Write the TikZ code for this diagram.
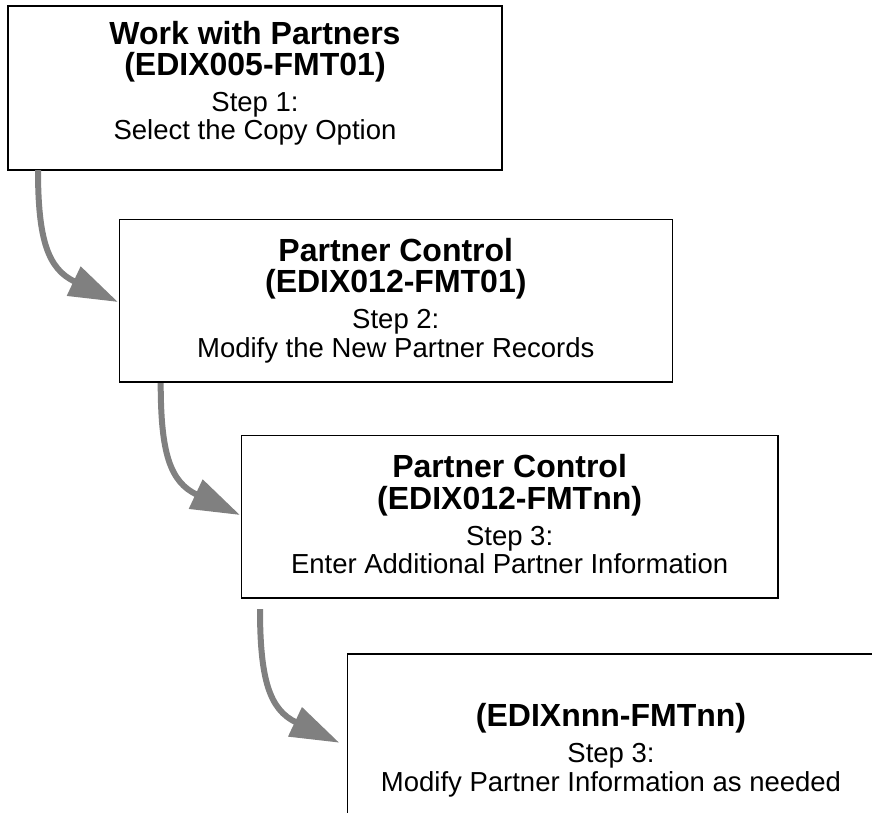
\documentclass[tikz,border=0pt]{standalone}
\usepackage{fontspec}
\setmainfont{Liberation Sans}
\usetikzlibrary{arrows.meta}
\definecolor{arrowgray}{HTML}{808080}
\begin{document}
\begin{tikzpicture}[x=1pt,y=-1pt,
  box/.style={draw=black, line width=1.3pt, inner sep=0pt},
  ttl/.style={font=\fontsize{32}{36}\selectfont\bfseries, anchor=base, inner sep=0pt},
  bdy/.style={font=\fontsize{27.5}{31}\selectfont, anchor=base, inner sep=0pt},
  flow/.style={draw=arrowgray, line width=6pt, -{Triangle[length=49pt,width=31pt]}}]
\useasboundingbox (0,0) rectangle (872,812);
\clip (0,0) rectangle (872,812);

% boxes
\node[box, minimum width=494pt, minimum height=164pt] (b1) at (255,88) {};
\node[box, minimum width=553pt, minimum height=162.7pt] (b2) at (395.8,300.6) {};
\node[box, minimum width=536.7pt, minimum height=162.5pt] (b3) at (509.6,516.8) {};
\node[box, minimum width=527pt, minimum height=163pt] (b4) at (611,735.5) {};

% texts
\node[ttl] (t1a) at (255,44) {Work with Partners};
\node[ttl] (t1b) at (255,75) {(EDIX005-FMT01)};
\node[bdy] (t1c) at (255,111) {Step 1:};
\node[bdy] (t1d) at (255,139.5) {Select the Copy Option};

\node[ttl] (t2a) at (395.8,261.3) {Partner Control};
\node[ttl] (t2b) at (395.8,292.8) {(EDIX012-FMT01)};
\node[bdy] (t2c) at (395.8,328.8) {Step 2:};
\node[bdy] (t2d) at (395.8,357.3) {Modify the New Partner Records};

\node[ttl] (t3a) at (509.6,477.5) {Partner Control};
\node[ttl] (t3b) at (509.6,509) {(EDIX012-FMTnn)};
\node[bdy] (t3c) at (509.6,545) {Step 3:};
\node[bdy] (t3d) at (509.6,573.5) {Enter Additional Partner Information};

\node[ttl] (t4b) at (611,726) {(EDIXnnn-FMTnn)};
\node[bdy] (t4c) at (611,762) {Step 3:};
\node[bdy] (t4d) at (611,791) {Modify Partner Information as needed};

% arrows
\coordinate (s1) at (38,170);
\coordinate (e1) at (118,302);
\coordinate (s2) at (160.7,383);
\coordinate (e2) at (240,515);
\coordinate (s3) at (260,609);
\coordinate (e3) at (339.3,742.7);
\draw[flow] (s1) .. controls +(0,70) and +(-70,-33) .. (e1);
\draw[flow] (s2) .. controls +(0,70) and +(-70,-33) .. (e2);
\draw[flow] (s3) .. controls +(0,70) and +(-70,-33) .. (e3);
\end{tikzpicture}
\end{document}
